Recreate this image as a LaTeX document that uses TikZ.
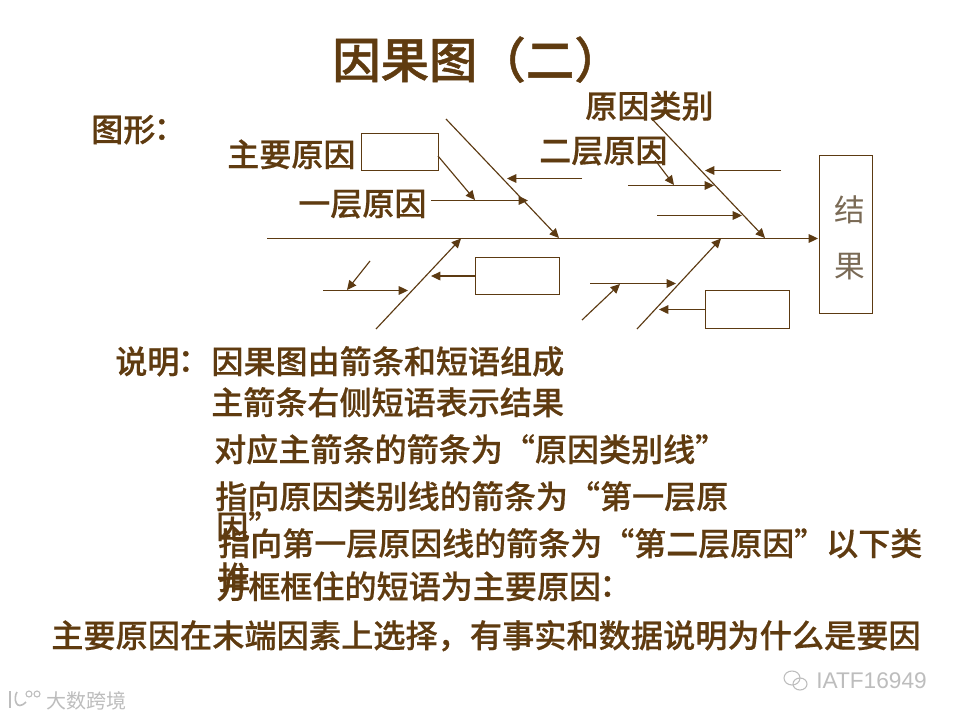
\documentclass[tikz,border=0pt]{standalone}
\usepackage{fontspec}
\setmainfont{Noto Sans CJK SC}
\newfontfamily\medf[FakeBold=0.5]{Noto Sans CJK SC Medium}
\newfontfamily\medtc[FakeBold=0.5]{Noto Sans CJK TC Medium}
\newfontfamily\ttlf[FakeBold=1.0]{Noto Sans CJK SC Medium}
\newfontfamily\latinwm{Liberation Sans}
\newcommand{\zcolon}{\kern-0.3em{\medtc ：}\kern0.3em}
\usetikzlibrary{arrows.meta}
\definecolor{brn}{HTML}{5C3A12}
\definecolor{txtbrn}{HTML}{5F3B10}
\definecolor{reslt}{HTML}{7A6A55}
\definecolor{wm}{HTML}{BDBDBD}
\tikzset{
  line/.style={draw=brn,line width=0.85pt},
  arr/.style={line,-{Triangle[length=7pt,width=6.5pt,fill=brn]}},
  box/.style={draw=brn,line width=0.8pt,fill=white,rectangle,inner sep=0pt},
  ttl/.style={anchor=base west,inner sep=0pt,text=txtbrn,font=\ttlf\fontsize{36.3}{36}\selectfont},
  lbl/.style={anchor=base west,inner sep=0pt,text=txtbrn,font=\medf\fontsize{24.05}{24}\selectfont},
  res/.style={inner sep=0pt,text=reslt,font=\fontsize{23}{23}\selectfont},
  mark1/.style={anchor=base west,inner sep=0pt,text=wm},
}
\begin{document}
\begin{tikzpicture}[x=0.75pt,y=-0.75pt]
\useasboundingbox (0,0) rectangle (960,720);
\fill[white] (0,0) rectangle (960,720);
% coordinates
\coordinate (mainL) at (267,238.5);
\coordinate (mainR) at (818,238.5);
\coordinate (b1s) at (446,119);
\coordinate (b1e) at (559,238);
\coordinate (b2s) at (652,119);
\coordinate (b2e) at (765,238);
\coordinate (b3s) at (376,329);
\coordinate (b3e) at (461,238.5);
\coordinate (b4s) at (637,329);
\coordinate (b4e) at (721,238.5);
\coordinate (a1s) at (431,200.5);  \coordinate (a1e) at (528,200.5);
\coordinate (a2s) at (582,178.5);\coordinate (a2e) at (507,178.5);
\coordinate (a3s) at (438,156);  \coordinate (a3e) at (475,200);
\coordinate (a4s) at (781,170.5);  \coordinate (a4e) at (705,170.5);
\coordinate (a5s) at (628,185.5);  \coordinate (a5e) at (714,185.5);
\coordinate (a6s) at (655,160);  \coordinate (a6e) at (674,185);
\coordinate (a7s) at (657,215.5);  \coordinate (a7e) at (742,215.5);
\coordinate (a8s) at (323,290.5);  \coordinate (a8e) at (408,290.5);
\coordinate (a9s) at (370,261);  \coordinate (a9e) at (347,290);
\coordinate (a10s) at (590,283.5); \coordinate (a10e) at (676,283.5);
\coordinate (a11s) at (582,320); \coordinate (a11e) at (620,284);
\coordinate (a12e) at (431,275.5);
\coordinate (a13e) at (659,309);
% boxes
\node[box,minimum width=57.5pt,minimum height=27.75pt,anchor=north west] (bxA) at (361,133) {};
\node[box,minimum width=63pt,minimum height=27.75pt,anchor=north west] (bxB) at (475,257) {};
\node[box,minimum width=63pt,minimum height=28.5pt,anchor=north west] (bxC) at (704.5,290) {};
\node[box,minimum width=40pt,minimum height=118.5pt,anchor=north west] (bxR) at (819,155) {};
% connectors
\draw[arr] (mainL) -- (mainR);
\draw[arr] (b1s) -- (b1e);
\draw[arr] (b2s) -- (b2e);
\draw[arr] (b3s) -- (b3e);
\draw[arr] (b4s) -- (b4e);
\draw[arr] (a1s) -- (a1e);
\draw[arr] (a2s) -- (a2e);
\draw[arr] (a3s) -- (a3e);
\draw[arr] (a4s) -- (a4e);
\draw[arr] (a5s) -- (a5e);
\draw[arr] (a6s) -- (a6e);
\draw[arr] (a7s) -- (a7e);
\draw[arr] (a8s) -- (a8e);
\draw[arr] (a9s) -- (a9e);
\draw[arr] (a10s) -- (a10e);
\draw[arr] (a11s) -- (a11e);
\draw[arr] (bxB.west) -- (bxB.west-|a12e);
\draw[arr] (bxC.west) -- (bxC.west-|a13e);
% text
\node[ttl] (title) at (332,78) {因果图（二）};
\node[lbl] (tuxing) at (91,141.5) {图形\zcolon};
\node[lbl] (zhuyao) at (227,166.5) {主要原因};
\node[lbl] (yiceng) at (298,215.5) {一层原因};
\node[lbl] (leibie) at (585,118) {原因类别};
\node[lbl] (erceng) at (539,162.5) {二层原因};
\node[res] (jie) at (850,209.5) {结};
\node[res] (guo) at (850,266.5) {果};
\node[lbl] (t1) at (115,373.5) {说明\zcolon 因果图由箭条和短语组成};
\node[lbl] (t2) at (211,414.5) {主箭条右侧短语表示结果};
\node[lbl] (t3) at (214,461.5) {对应主箭条的箭条为“原因类别线”};
\node[lbl] (t4) at (215,508.5) {指向原因类别线的箭条为“第一层原};
\node[lbl] (t4b) at (216,538.5) {因”};
\node[lbl,font=\medf\fontsize{24}{24}\selectfont] (t5) at (218,555.5) {指向第一层原因线的箭条为“第二层原因”以下类};
\node[lbl] (t5b) at (218,589.5) {推};
\node[lbl] (t6) at (216,598.5) {方框框住的短语为主要原因\zcolon};
\node[lbl,font=\medf\fontsize{24.15}{24}\selectfont] (t7) at (51,647.5) {主要原因在末端因素上选择，有事实和数据说明为什么是要因};
% watermarks
\node[mark1,font=\latinwm\fontsize{17}{17}\selectfont] (wm1) at (816,688) {IATF16949};
\node[mark1,font=\fontsize{15}{15}\selectfont] (wm2) at (46,708) {大数跨境};
\draw[wm,line width=0.8pt] (792,678) ellipse (8 and 7);
\draw[wm,line width=0.8pt] (800,684) ellipse (7 and 6);
\draw[wm,line width=1.2pt] (10,691) -- (10,708);
\draw[wm,line width=1.2pt] (17,692) .. controls (13,698) and (16,712) .. (26,702);
\draw[wm,line width=0.8pt] (29,694) circle (3);
\draw[wm,line width=0.8pt] (37,694) circle (3);
\end{tikzpicture}
\end{document}
